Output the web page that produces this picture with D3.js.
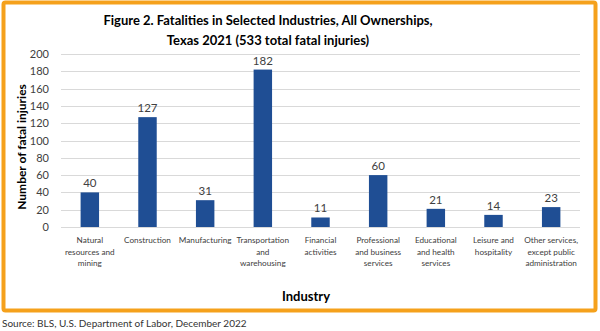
<!DOCTYPE html>
<html>
<head>
<meta charset="utf-8">
<script src="https://cdn.jsdelivr.net/npm/d3@7"></script>
<style>
  body { margin: 0; background: #fff; }
  text { font-family: Lato, "Open Sans", sans-serif; }
</style>
</head>
<body>
<script>
var categories = [
    ["Natural", "resources and", "mining"],
    ["Construction"],
    ["Manufacturing"],
    ["Transportation", "and", "warehousing"],
    ["Financial", "activities"],
    ["Professional", "and business", "services"],
    ["Educational", "and health", "services"],
    ["Leisure and", "hospitality"],
    ["Other services,", "except public", "administration"]
];
var values = [40, 127, 31, 182, 11, 60, 21, 14, 23];
var yTicks = [0, 20, 40, 60, 80, 100, 120, 140, 160, 180, 200];

var width = 600, height = 331;

var svg = d3.select("body").append("svg")
    .attr("width", width)
    .attr("height", height);

// orange frame
svg.append("rect")
    .attr("x", 3.5).attr("y", 2.5)
    .attr("width", 592).attr("height", 308)
    .attr("fill", "#fff")
    .attr("stroke", "#f5a11c")
    .attr("stroke-width", 4)
    .attr("rx", 2);

var x = d3.scaleBand()
    .domain(d3.range(categories.length))
    .range([61, 580])
    .paddingInner(0.68)
    .paddingOuter(0.34);

var y = d3.scaleLinear()
    .domain([0, 200])
    .range([227, 54]);

// gridlines
svg.append("g")
    .selectAll("line")
    .data(yTicks)
    .enter().append("line")
    .attr("x1", 61).attr("x2", 580)
    .attr("y1", d => Math.round(y(d)) + 0.5)
    .attr("y2", d => Math.round(y(d)) + 0.5)
    .attr("stroke", "#d9d9d9")
    .attr("stroke-width", 1);

// y axis labels
var yAxis = svg.append("g")
    .attr("transform", "translate(52,0)")
    .call(d3.axisLeft(y).tickValues(yTicks).tickSize(0).tickPadding(3));
yAxis.select(".domain").remove();
yAxis.selectAll("text")
    .attr("font-size", 11)
    .attr("fill", "#404040")
    .style("font-family", "Lato, sans-serif");

// bars
svg.append("g")
    .selectAll("rect")
    .data(values)
    .enter().append("rect")
    .attr("x", (d, i) => x(i))
    .attr("y", d => y(d))
    .attr("width", x.bandwidth())
    .attr("height", d => y(0) - y(d))
    .attr("fill", "#1f4e94");

// value labels
svg.append("g")
    .selectAll("text")
    .data(values)
    .enter().append("text")
    .attr("x", (d, i) => x(i) + x.bandwidth() / 2)
    .attr("y", d => y(d) - 5)
    .attr("text-anchor", "middle")
    .attr("font-size", 11.5)
    .attr("fill", "#404040")
    .text(d => d);

// category labels
var cat = svg.append("g")
    .selectAll("text")
    .data(categories)
    .enter().append("text")
    .attr("text-anchor", "middle")
    .attr("font-size", 8.2)
    .attr("fill", "#404040")
    .attr("x", (d, i) => x(i) + x.bandwidth() / 2)
    .attr("y", 243);
cat.selectAll("tspan")
    .data(d => d)
    .enter().append("tspan")
    .attr("x", function () { return d3.select(this.parentNode).attr("x"); })
    .attr("dy", (d, i) => i === 0 ? 0 : 11.7)
    .text(d => d);

// title
var title = svg.append("text")
    .attr("text-anchor", "middle")
    .attr("font-size", 13)
    .attr("font-weight", "bold")
    .attr("fill", "#000");
title.append("tspan").attr("x", 268).attr("y", 25)
    .text("Figure 2. Fatalities in Selected Industries, All Ownerships,");
title.append("tspan").attr("x", 268).attr("y", 45)
    .text("Texas 2021 (533 total fatal injuries)");

// axis titles
svg.append("text")
    .attr("transform", "translate(26,147) rotate(-90)")
    .attr("text-anchor", "middle")
    .attr("font-size", 12)
    .attr("font-weight", "bold")
    .text("Number of fatal injuries");

svg.append("text")
    .attr("x", 306).attr("y", 301)
    .attr("text-anchor", "middle")
    .attr("font-size", 13)
    .attr("font-weight", "bold")
    .text("Industry");

// source
svg.append("text")
    .attr("x", 2).attr("y", 327)
    .attr("font-size", 10)
    .attr("fill", "#333")
    .text("Source: BLS, U.S. Department of Labor, December 2022");
</script>
</body>
</html>
